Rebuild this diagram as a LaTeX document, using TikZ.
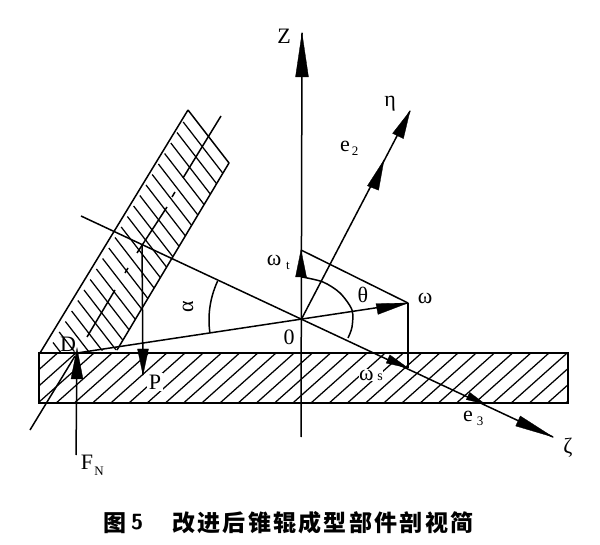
\documentclass[tikz,border=0pt]{standalone}
\usepackage{fontspec}
\setmainfont{Liberation Serif}
\newfontfamily\cjk{Noto Sans CJK SC}[LetterSpace=10]
\usetikzlibrary{calc}
\tikzset{
  ln/.style={draw=black,line width=1.5pt},
  hatchline/.style={draw=black,line width=1.25pt},
  head/.style={fill=black,draw=black,line width=0.3pt},
  lab/.style={inner sep=0pt,font=\fontsize{22}{22}\selectfont},
  sublab/.style={inner sep=0pt,font=\fontsize{13}{13}\selectfont},
  whitelab/.style={lab,fill=white,inner sep=1.5pt},
  captext/.style={inner sep=0pt,font=\cjk\bfseries\fontsize{23}{23}\selectfont}
}
\newcommand{\arrowhd}[3]{%
  \fill[head] (#1) -- ($(#2)!#3pt!90:(#1)$) -- ($(#2)!#3pt!-90:(#1)$) -- cycle;}
\begin{document}
\begin{tikzpicture}[x=1pt,y=-1pt]
\useasboundingbox (0,0) rectangle (600,545);
\fill[white] (0,0) rectangle (600,545);
% key points
\coordinate (O) at (301,320);
\coordinate (Ztop) at (302,33);
\coordinate (Zbot) at (301,437);
\coordinate (eta) at (410,111);
\coordinate (om) at (408,303);
\coordinate (omt) at (301,250);
\coordinate (oms) at (408,368);
\coordinate (zeta) at (553,437);
\coordinate (aL) at (81,216);
\coordinate (Dp) at (77,353);
\coordinate (Fb) at (76,455);
\coordinate (Pt) at (142,245);
\coordinate (Pb) at (143,375);
\coordinate (A) at (188,110);
\coordinate (B) at (229,163);
\coordinate (C) at (117,350);
\coordinate (E) at (40,353);
% plate hatching
\begin{scope}
  \clip (40,353) rectangle (568,403);
  \foreach \k in {-3,...,29}
    \draw[hatchline] ({38+18.2*\k},403) -- ({38+18.2*\k+56},353);
\end{scope}
% roller hatching
\begin{scope}
  \clip (A) -- (B) -- (C) -- (E) -- cycle;
  \foreach \k in {0,...,22}
    \draw[hatchline] ({183.2-6.2*\k},{122+10.5*\k}) -- ++(123,159);
\end{scope}
% outlines
\draw[ln,line join=round] (A) -- (B) -- (C);
\draw[ln] (A) -- (E);
\draw[ln] (39,353) rectangle (568,403);
% roller axis (broken centre line)
\draw[ln] (30,430) -- (75,356);
\draw[ln] (87,337) -- (115,290);
\draw[ln] (125,273) -- (128,268);
\draw[ln] (137,253) -- (167,207);
\draw[ln] (172,197) -- (175,192);
\draw[ln] (183,178) -- (221,116);
% main axes
\draw[ln] (Zbot) -- (Ztop);
\draw[ln] (O) -- (eta);
\draw[ln] (aL) -- (zeta);
\draw[ln] (Dp) -- (om);
\draw[ln] (om) -- (oms);
\draw[ln] (om) -- (omt);
\draw[ln] (Pt) -- (Pb);
\draw[ln] (Fb) -- (Dp);
% arrow heads
\arrowhd{Ztop}{302,77}{6.5}
\arrowhd{eta}{398,136}{6}
\arrowhd{384,160}{373,188}{6}
\arrowhd{301,250}{301,277}{5.5}
\arrowhd{om}{377,309}{5.5}
\arrowhd{oms}{388,359}{4.5}
\arrowhd{485,404}{468,396}{4}
\arrowhd{zeta}{518,421}{5.5}
\arrowhd{Pb}{143,349}{5.5}
\arrowhd{77,348}{77,379}{6}
% angle arcs
\draw[ln] plot[domain=172:205,samples=20] ({301+92*cos(\x)},{320+92*sin(\x)});
\draw[ln] plot[smooth] coordinates {(302,277) (323,282) (340,293) (352,310) (352,327) (348,338)};
% labels
\node[lab] (lZ) at (284,36) {Z};
\node[lab] (leta) at (390,104) {η};
\node[lab] (le2) at (345,146) {e};
\node[sublab] (le2s) at (355,151) {2};
\node[lab] (lomt) at (274,260) {ω};
\node[sublab] (lomts) at (288,266) {t};
\node[lab] (lth) at (363,295) {θ};
\node[lab] (lom) at (425,298) {ω};
\node[lab] (lO) at (289,337) {0};
\node[lab,rotate=90] (lal) at (188,307) {α};
\node[lab] (lD) at (68,344) {D};
\node[whitelab] (lP) at (155,382) {P};
\node[lab] (lF) at (87,462) {F};
\node[sublab] (lFs) at (99,471) {N};
\node[whitelab,inner sep=0.5pt] (loms) at (371,375) {ω\,{\fontsize{14}{14}\selectfont s}};
\node[lab] (le3) at (468,416) {e};
\node[sublab] (le3s) at (480,421) {3};
\node[lab] (lz) at (568,448) {ζ};
% caption
\node[captext,anchor=west] (capn) at (103,523) {图};
\node[inner sep=0pt,anchor=west,font=\sffamily\bfseries\fontsize{22}{22}\selectfont] (capd) at (131,522) {5};
\node[captext,anchor=west] (capt) at (172,523) {改进后锥辊成型部件剖视简};
\end{tikzpicture}
\end{document}
